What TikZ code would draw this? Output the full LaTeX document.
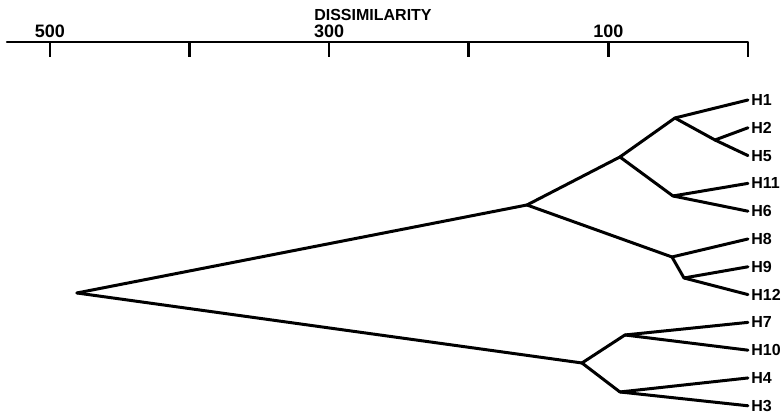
\documentclass[tikz,border=0pt]{standalone}
\usepackage{fontspec}
\setmainfont{Liberation Sans}
\begin{document}
\begin{tikzpicture}[x={(-0.698pt,0pt)}, y={(0pt,-0.5pt)}, line join=round, line cap=round, font=\fontsize{8}{9.6}\selectfont\bfseries,
	branch/.style={line width=1.5pt},
	leaf/.style={anchor=west, inner sep=1.5pt}]
	\useasboundingbox (535.8, 0) rectangle (-24.4, 415);

	% Dissimilarity axis
	\draw[line width=1pt] (530.8, 42) -- (0, 42);
	\foreach \d in {0, 100, ..., 500} {
		\draw[line width=1.3pt, line cap=butt] (\d, 42) -- (\d, 57);
	}
	\foreach \d in {100, 300, 500} {
		\node[above, inner sep=2pt, font=\fontsize{9}{10.8}\selectfont\bfseries] (l\d) at (\d, 42) {\d};
	}
	\node (title) at (268.6, 15) {DISSIMILARITY};

	% Leaves
	\foreach \n [count=\i from 0] in {1, 2, 5, 11, 6, 8, 9, 12, 7, 10, 4, 3} {
		\node[leaf] (h\n) at (0, 100 + 27.8*\i) {H\n};
	}

	% Junctions
	\coordinate (j25) at (23.6, 140);
	\coordinate (j125) at (52.3, 118);
	\coordinate (j611) at (53.7, 196);
	\coordinate (jA) at (91.7, 157);
	\coordinate (j912) at (45.8, 278);
	\coordinate (j8) at (54.4, 257);
	\coordinate (jB) at (158.3, 205);
	\coordinate (j710) at (88.1, 335);
	\coordinate (j34) at (91.7, 392);
	\coordinate (jC) at (118.9, 363);
	\coordinate (root) at (480.7, 293);

	% Branches
	\foreach \a/\b in {root/jB, root/jC, jB/jA, jB/j8, jA/j125, jA/j611, j125/j25, j8/j912, jC/j710, jC/j34} {
		\draw[branch] (\a) -- (\b);
	}
	\foreach \a/\b in {j125/h1, j25/h2, j25/h5, j611/h11, j611/h6, j8/h8, j912/h9, j912/h12, j710/h7, j710/h10, j34/h4, j34/h3} {
		\draw[branch] (\a) -- (\b.west);
	}
\end{tikzpicture}
\end{document}
